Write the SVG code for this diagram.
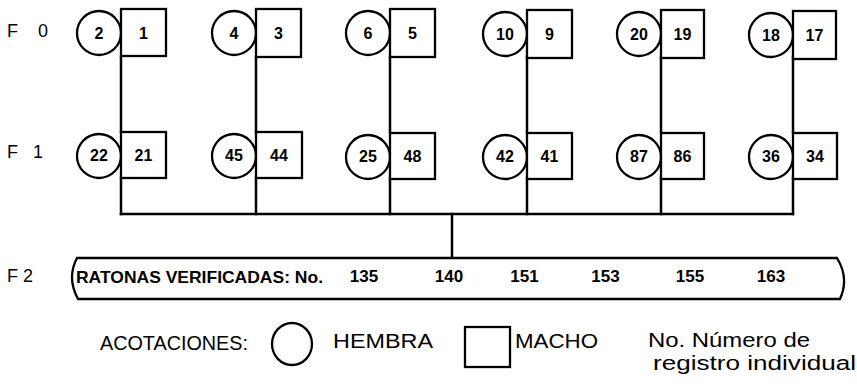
<svg xmlns="http://www.w3.org/2000/svg" width="857" height="391" viewBox="0 0 857 391">
<style>
.ln{fill:none;stroke:#000;stroke-width:2.5;stroke-linecap:square}
.sh{fill:#fff;stroke:#000;stroke-width:2.3}
.num{font-family:"Liberation Sans",Arial,sans-serif;font-weight:bold;font-size:16px;text-anchor:middle;fill:#000}
.gen{font-family:"Liberation Sans",Arial,sans-serif;font-size:18px;fill:#000}
.lab{font-family:"Liberation Sans",Arial,sans-serif;font-weight:bold;font-size:16.5px;fill:#000}
.big{font-family:"Liberation Sans",Arial,sans-serif;font-weight:bold;font-size:17px;text-anchor:middle;fill:#000}
.leg{font-family:"Liberation Sans",Arial,sans-serif;font-size:20.5px;fill:#000}
</style>
<rect width="857" height="391" fill="#fff"/>
<text class="gen" x="7" y="37" textLength="41" lengthAdjust="spacing">F 0</text>
<text class="gen" x="7" y="158" textLength="36" lengthAdjust="spacing">F 1</text>
<text class="gen" x="7" y="282" textLength="26" lengthAdjust="spacing">F 2</text>
<g id="connectors">
<path class="ln" d="M121,57V132M256,57V132M390,57V132M527,57V132M661,57V132M793,57V132"/>
<path class="ln" d="M121,178V214M256,178V214M390,178V214M527,178V214M661,178V214M793,178V214"/>
<path class="ln" d="M121,214H793"/>
<path class="ln" d="M452,214V258"/>
</g>
<g id="f0-2"><circle class="sh" cx="99" cy="33" r="22"/><text class="num" x="99" y="39">2</text></g>
<g id="f0-1"><rect class="sh" x="121" y="9" width="45" height="47"/><text class="num" x="143.5" y="39">1</text></g>
<g id="f0-4"><circle class="sh" cx="234" cy="33" r="22"/><text class="num" x="234" y="39">4</text></g>
<g id="f0-3"><rect class="sh" x="256" y="9" width="45" height="48"/><text class="num" x="278.5" y="39">3</text></g>
<g id="f0-6"><circle class="sh" cx="368" cy="33" r="22"/><text class="num" x="368" y="39">6</text></g>
<g id="f0-5"><rect class="sh" x="390" y="9" width="45" height="48"/><text class="num" x="412.5" y="39">5</text></g>
<g id="f0-10"><circle class="sh" cx="505" cy="34" r="22"/><text class="num" x="505" y="40">10</text></g>
<g id="f0-9"><rect class="sh" x="527" y="10" width="45" height="48"/><text class="num" x="549.5" y="40">9</text></g>
<g id="f0-20"><circle class="sh" cx="639" cy="34" r="22"/><text class="num" x="639" y="40">20</text></g>
<g id="f0-19"><rect class="sh" x="661" y="10" width="43" height="48"/><text class="num" x="682.5" y="40">19</text></g>
<g id="f0-18"><circle class="sh" cx="771" cy="35" r="22"/><text class="num" x="771" y="41">18</text></g>
<g id="f0-17"><rect class="sh" x="793" y="11" width="43" height="48"/><text class="num" x="814.5" y="41">17</text></g>
<g id="f1-22"><circle class="sh" cx="99" cy="156" r="22"/><text class="num" x="99" y="161">22</text></g>
<g id="f1-21"><rect class="sh" x="121" y="132" width="45" height="46"/><text class="num" x="143.5" y="161">21</text></g>
<g id="f1-45"><circle class="sh" cx="234" cy="156" r="22"/><text class="num" x="234" y="161">45</text></g>
<g id="f1-44"><rect class="sh" x="256" y="132" width="46" height="46"/><text class="num" x="279" y="161">44</text></g>
<g id="f1-25"><circle class="sh" cx="368" cy="157" r="22"/><text class="num" x="368" y="162">25</text></g>
<g id="f1-48"><rect class="sh" x="390" y="133" width="45" height="46"/><text class="num" x="412.5" y="162">48</text></g>
<g id="f1-42"><circle class="sh" cx="505" cy="157" r="22"/><text class="num" x="505" y="162">42</text></g>
<g id="f1-41"><rect class="sh" x="527" y="133" width="45" height="46"/><text class="num" x="549.5" y="162">41</text></g>
<g id="f1-87"><circle class="sh" cx="639" cy="157" r="22"/><text class="num" x="639" y="162">87</text></g>
<g id="f1-86"><rect class="sh" x="661" y="133" width="43" height="46"/><text class="num" x="682.5" y="162">86</text></g>
<g id="f1-36"><circle class="sh" cx="771" cy="157" r="22"/><text class="num" x="771" y="162">36</text></g>
<g id="f1-34"><rect class="sh" x="793" y="133" width="44" height="46"/><text class="num" x="815" y="162">34</text></g>
<g id="f2">
<path class="sh" d="M77,258 L837,258 Q849.5,278 840,299 L78,299 Q66.5,278 77,258 Z"/>
<text class="lab" x="76" y="283" textLength="247" lengthAdjust="spacingAndGlyphs">RATONAS VERIFICADAS: No.</text>
<text class="big" x="364" y="282">135</text>
<text class="big" x="449" y="282">140</text>
<text class="big" x="524.5" y="282">151</text>
<text class="big" x="605.5" y="282">153</text>
<text class="big" x="690" y="282">155</text>
<text class="big" x="771" y="282">163</text>
</g>
<g id="legend">
<text class="leg" x="100" y="350" textLength="148" lengthAdjust="spacingAndGlyphs">ACOTACIONES:</text>
<ellipse class="sh" cx="292" cy="344" rx="20" ry="21"/>
<text class="leg" x="333" y="348" textLength="100" lengthAdjust="spacingAndGlyphs">HEMBRA</text>
<rect class="sh" x="465" y="327" width="45" height="40"/>
<text class="leg" x="515" y="348" textLength="83" lengthAdjust="spacingAndGlyphs">MACHO</text>
<text class="leg" x="648" y="347" textLength="162" lengthAdjust="spacingAndGlyphs">No. Número de</text>
<text class="leg" x="653" y="370" textLength="203" lengthAdjust="spacingAndGlyphs">registro individual</text>
</g>
</svg>
